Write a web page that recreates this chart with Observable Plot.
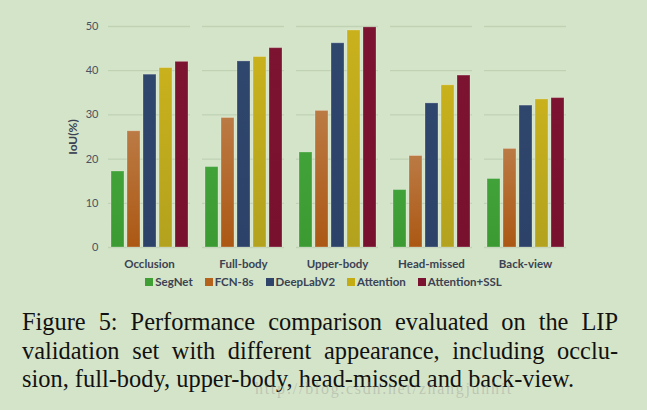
<!DOCTYPE html>
<html>
<head>
<meta charset="utf-8">
<script src="https://cdn.jsdelivr.net/npm/d3@7"></script>
<script src="https://cdn.jsdelivr.net/npm/@observablehq/plot@0.6"></script>
<style>
  html, body { margin: 0; padding: 0; background: #d4e4c8; }
  body { width: 647px; height: 410px; overflow: hidden; position: relative; }
  #legend { display: flex; justify-content: center; gap: 12px; font-family: Lato, "Open Sans", sans-serif; font-weight: bold; font-size: 11.5px; color: #3a4254; height: 18px; align-items: center; margin-left: 0px; }
  #legend span.sw { display: inline-block; width: 8px; height: 8px; margin-right: 2px; }
  #caption { font-family: "Liberation Serif", "DejaVu Serif", serif; font-size: 24.4px; line-height: 28.5px; color: #111; width: 596px; margin-left: 22px; margin-top: 18px; }
  #caption div { text-align: justify; text-align-last: justify; white-space: nowrap; }
  #caption div.last { text-align-last: left; }
  #wm { position: absolute; left: 255px; top: 380px; font-family: "Liberation Serif", serif; font-size: 16px; color: rgba(150,150,150,0.4); letter-spacing: 1.7px; }
</style>
</head>
<body>
<div id="chart"></div>
<div id="legend"></div>
<div id="caption">
  <div>Figure 5: Performance comparison evaluated on the LIP</div>
  <div>validation set with different appearance, including occlu-</div>
  <div class="last">sion, full-body, upper-body, head-missed and back-view.</div>
</div>
<div id="wm">http://blog.csdn.net/zhangjunhit</div>
<script>
const categories = ["Occlusion", "Full-body", "Upper-body", "Head-missed", "Back-view"];
const methods = ["SegNet", "FCN-8s", "DeepLabV2", "Attention", "Attention+SSL"];
const segnet = [17.2, 18.2, 21.5, 13.0, 15.5];
const fcn8s = [26.3, 29.3, 30.9, 20.7, 22.3];
const deeplab = [39.1, 42.1, 46.2, 32.6, 32.1];
const attention = [40.6, 43.1, 49.1, 36.7, 33.5];
const attentionSSL = [42.0, 45.1, 49.8, 38.9, 33.8];
const yTicks = [0, 10, 20, 30, 40, 50];

const seriesValues = [segnet, fcn8s, deeplab, attention, attentionSSL];
const colors = ["#3f9f35", "#b5621c", "#2e446a", "#c4ad14", "#7a1230"];
const gradTop = ["#42a23a", "#bb7a44", "#2f466d", "#c9b11c", "#7c1331"];
const gradBot = ["#3c9a32", "#ac5814", "#2d4268", "#b3a21e", "#78112e"];

const table = [];
methods.forEach((m, i) => categories.forEach((c, j) => table.push({category: c, method: m, value: seriesValues[i][j], idx: i})));

const defsMark = () => {
  const svgNS = "http://www.w3.org/2000/svg";
  const defs = document.createElementNS(svgNS, "defs");
  methods.forEach((m, i) => {
    const g = document.createElementNS(svgNS, "linearGradient");
    g.setAttribute("id", "grad" + i);
    g.setAttribute("x1", "0"); g.setAttribute("y1", "0"); g.setAttribute("x2", "0"); g.setAttribute("y2", "1");
    const s1 = document.createElementNS(svgNS, "stop"); s1.setAttribute("offset", "0"); s1.setAttribute("stop-color", gradTop[i]);
    const s2 = document.createElementNS(svgNS, "stop"); s2.setAttribute("offset", "1"); s2.setAttribute("stop-color", gradBot[i]);
    g.appendChild(s1); g.appendChild(s2); defs.appendChild(g);
  });
  return defs;
};

const barMarks = methods.map((m, i) => Plot.barY(table.filter(d => d.idx === i), {
  fx: "category", x: "method", y: "value",
  fill: `url(#grad${i})`, stroke: "#ffffff", strokeOpacity: 0.25, strokeWidth: 1, inset: 0
}));

const chart = Plot.plot({
  width: 647,
  height: 272,
  marginTop: 26,
  marginBottom: 25,
  marginLeft: 107,
  marginRight: 80,
  style: {background: "transparent", fontFamily: "Lato, 'Open Sans', sans-serif", fontSize: "11px", color: "#3a4254"},
  fx: {domain: categories, label: null, padding: 0.13, axis: "bottom", tickSize: 0, tickPadding: 12},
  x: {domain: methods, axis: null, paddingInner: 0.2, paddingOuter: 0.05},
  y: {domain: [0, 50], ticks: yTicks, label: "IoU(%)", labelAnchor: "center", labelOffset: 40, tickSize: 0, tickPadding: 10},
  marks: [
    defsMark,
    Plot.ruleY(yTicks, {stroke: "#bfd2b4", strokeWidth: 1.3}),
    ...barMarks
  ]
});
document.getElementById("chart").appendChild(chart);
const svg = d3.select(chart);
svg.selectAll("[aria-label='fx-axis tick label'] text").attr("font-weight", "bold").attr("font-size", 11.5);
svg.selectAll("[aria-label='y-axis label']").attr("font-weight", "bold").attr("font-size", 12);
svg.selectAll("[aria-label='y-axis label'] text").text("IoU(%)");
svg.selectAll("[aria-label='y-axis tick label'] text").attr("fill", "#4a5262");

const leg = document.getElementById("legend");
methods.forEach((m, i) => {
  const it = document.createElement("span");
  it.innerHTML = `<span class="sw" style="background:${colors[i]}"></span>${m}`;
  leg.appendChild(it);
});
</script>
</body>
</html>
